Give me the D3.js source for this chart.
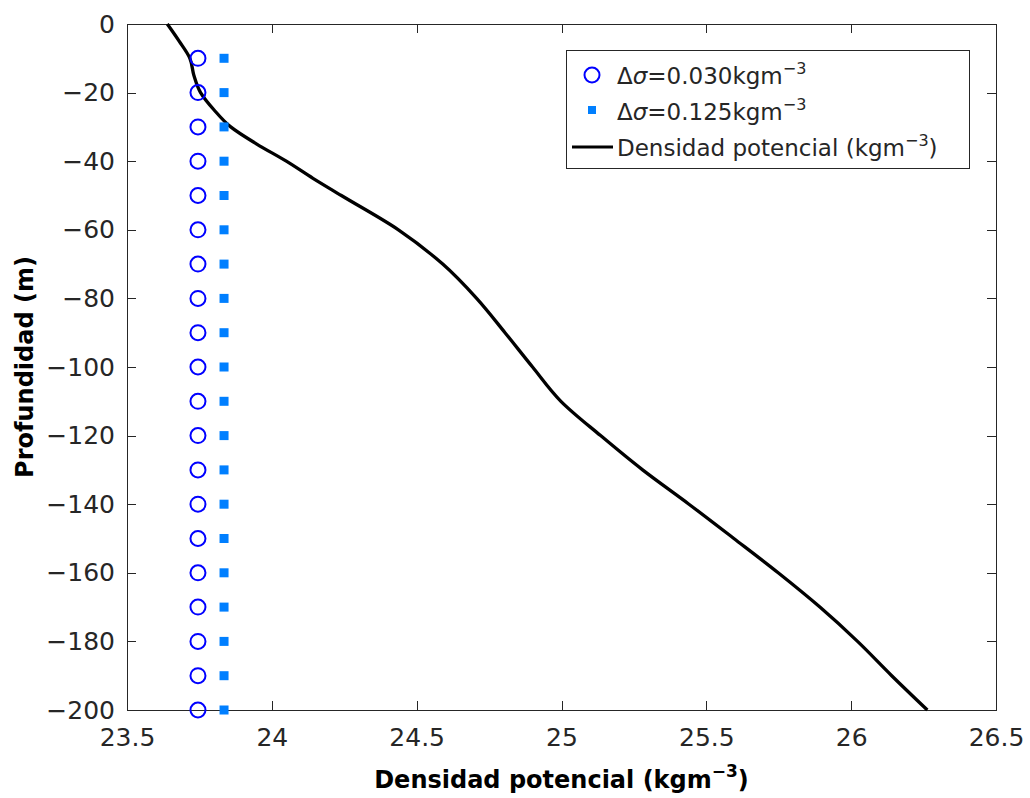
<!DOCTYPE html>
<html>
<head>
<meta charset="utf-8">
<script src="https://cdn.jsdelivr.net/npm/d3@7"></script>
<style>
  html, body { margin: 0; padding: 0; background: #ffffff; }
  svg { display: block; font-family: "DejaVu Sans", sans-serif; }
</style>
</head>
<body>
<svg id="chart" width="1030" height="798"></svg>
<script>
// Potential density profile (kg m^-3) against depth (m)
const profileDepth = [0, -5, -10, -15, -20, -25, -30, -35, -40, -45, -50, -60, -70, -80, -90,
  -100, -110, -120, -130, -140, -150, -160, -170, -180, -190, -200];
const profileDensity = [23.639, 23.680, 23.717, 23.731, 23.754, 23.800, 23.858, 23.948, 24.050,
  24.142, 24.240, 24.437, 24.590, 24.707, 24.805, 24.900, 24.998, 25.135, 25.280, 25.440,
  25.595, 25.748, 25.892, 26.022, 26.140, 26.263];

// Mixed-layer criteria markers
const markerDepth = [-10, -20, -30, -40, -50, -60, -70, -80, -90, -100,
  -110, -120, -130, -140, -150, -160, -170, -180, -190, -200];
const sigma030 = [23.745, 23.745, 23.745, 23.745, 23.745, 23.745, 23.745, 23.745, 23.745, 23.745,
  23.745, 23.745, 23.745, 23.745, 23.745, 23.745, 23.745, 23.745, 23.745, 23.745];
const sigma125 = [23.835, 23.835, 23.835, 23.835, 23.835, 23.835, 23.835, 23.835, 23.835, 23.835,
  23.835, 23.835, 23.835, 23.835, 23.835, 23.835, 23.835, 23.835, 23.835, 23.835];

// Axis ticks
const xTicks = [23.5, 24, 24.5, 25, 25.5, 26, 26.5];
const yTicks = [0, -20, -40, -60, -80, -100, -120, -140, -160, -180, -200];

const axisColor = "#262626";
const box = { left: 127, top: 24, right: 996, bottom: 710 };

const svg = d3.select("#chart");
svg.append("rect").attr("width", 1030).attr("height", 798).attr("fill", "#ffffff");

const x = d3.scaleLinear().domain([23.5, 26.5]).range([box.left, box.right]);
const y = d3.scaleLinear().domain([-200, 0]).range([box.bottom, box.top]);

const fmt = d => String(d).replace("-", "\u2212");

function styleAxis(g, showLabels) {
  g.select(".domain").remove();
  g.selectAll(".tick line").attr("stroke", axisColor).attr("stroke-width", 1)
    .attr("shape-rendering", "crispEdges");
  g.selectAll(".tick text")
    .attr("fill", axisColor)
    .style("font-size", "25px")
    .style("font-family", "'DejaVu Sans', sans-serif");
  if (!showLabels) g.selectAll(".tick text").remove();
}

// bottom / top
svg.append("g").attr("transform", `translate(0,${box.bottom})`)
  .call(d3.axisBottom(x).tickValues(xTicks).tickSize(-9).tickPadding(18).tickFormat(fmt))
  .call(g => styleAxis(g, true));
svg.append("g").attr("transform", `translate(0,${box.top})`)
  .call(d3.axisTop(x).tickValues(xTicks).tickSize(-9))
  .call(g => styleAxis(g, false));
// left / right
svg.append("g").attr("transform", `translate(${box.left},0)`)
  .call(d3.axisLeft(y).tickValues(yTicks).tickSize(-9).tickPadding(12).tickFormat(fmt))
  .call(g => styleAxis(g, true));
svg.append("g").attr("transform", `translate(${box.right},0)`)
  .call(d3.axisRight(y).tickValues(yTicks).tickSize(-9))
  .call(g => styleAxis(g, false));

// axes box
svg.append("rect")
  .attr("x", box.left).attr("y", box.top)
  .attr("width", box.right - box.left).attr("height", box.bottom - box.top)
  .attr("fill", "none").attr("stroke", axisColor).attr("stroke-width", 1)
  .attr("shape-rendering", "crispEdges");

// density profile line
const profile = profileDepth.map((d, i) => ({ z: d, s: profileDensity[i] }));
svg.append("path")
  .datum(profile)
  .attr("fill", "none")
  .attr("stroke", "#000000")
  .attr("stroke-width", 3.3)
  .attr("stroke-linejoin", "round")
  .attr("d", d3.line().curve(d3.curveMonotoneY).x(d => x(d.s)).y(d => y(d.z)));

// open circles: Δσ = 0.030
svg.append("g").selectAll("circle")
  .data(markerDepth.map((d, i) => ({ z: d, s: sigma030[i] })))
  .join("circle")
  .attr("cx", d => x(d.s)).attr("cy", d => y(d.z)).attr("r", 7.5)
  .attr("fill", "none").attr("stroke", "#0000ff").attr("stroke-width", 2);

// filled squares: Δσ = 0.125
const sq = 9;
svg.append("g").selectAll("rect")
  .data(markerDepth.map((d, i) => ({ z: d, s: sigma125[i] })))
  .join("rect")
  .attr("x", d => x(d.s) - sq / 2).attr("y", d => y(d.z) - sq / 2)
  .attr("width", sq).attr("height", sq)
  .attr("fill", "#007fff");

// legend
const lg = svg.append("g");
lg.append("rect").attr("x", 566).attr("y", 50).attr("width", 403).attr("height", 118)
  .attr("fill", "#ffffff").attr("stroke", axisColor).attr("stroke-width", 1)
  .attr("shape-rendering", "crispEdges");
lg.append("circle").attr("cx", 592).attr("cy", 75).attr("r", 7.5)
  .attr("fill", "none").attr("stroke", "#0000ff").attr("stroke-width", 2);
lg.append("rect").attr("x", 592 - 4).attr("y", 110 - 4).attr("width", 8).attr("height", 8)
  .attr("fill", "#007fff");
lg.append("line").attr("x1", 572).attr("x2", 613).attr("y1", 147).attr("y2", 147)
  .attr("stroke", "#000000").attr("stroke-width", 3);

function legendText(yb, value) {
  const t = lg.append("text").attr("x", 617).attr("y", yb)
    .attr("fill", axisColor).style("font-size", "23px");
  t.append("tspan").text("\u0394");
  t.append("tspan").style("font-style", "italic").text("\u03c3");
  t.append("tspan").text("=" + value + "kgm");
  t.append("tspan").attr("dy", -10).style("font-size", "16px").text("\u22123");
}
legendText(84, "0.030");
legendText(120, "0.125");
const lt = lg.append("text").attr("x", 617).attr("y", 156)
  .attr("fill", axisColor).style("font-size", "23px");
lt.append("tspan").text("Densidad potencial (kgm");
lt.append("tspan").attr("dy", -10).style("font-size", "16px").text("\u22123");
lt.append("tspan").attr("dy", 10).text(")");

// axis labels
const xl = svg.append("text")
  .attr("x", (box.left + box.right) / 2).attr("y", 788)
  .attr("text-anchor", "middle").attr("fill", "#000000")
  .style("font-size", "24px").style("font-weight", "bold");
xl.append("tspan").text("Densidad potencial (kgm");
xl.append("tspan").attr("dy", -11).style("font-size", "17px").text("\u22123");
xl.append("tspan").attr("dy", 11).text(")");

svg.append("text")
  .attr("transform", `translate(33,${(box.top + box.bottom) / 2}) rotate(-90)`)
  .attr("text-anchor", "middle").attr("fill", "#000000")
  .style("font-size", "24px").style("font-weight", "bold")
  .text("Profundidad (m)");
</script>
</body>
</html>
